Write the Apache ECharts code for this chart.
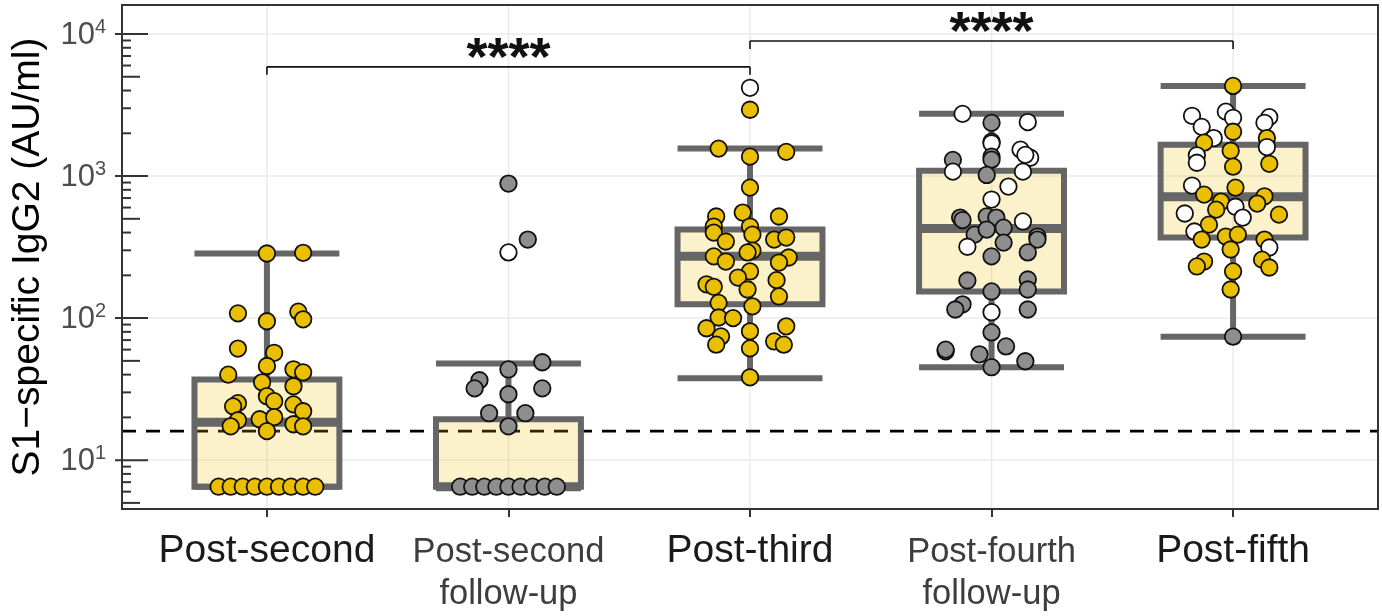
<!DOCTYPE html>
<html><head><meta charset="utf-8">
<script src="https://cdn.jsdelivr.net/npm/echarts@6/dist/echarts.min.js"></script>
<style>html,body{margin:0;padding:0;background:#fff}#c{width:1382px;height:616px}</style>
</head><body><div id="c"></div>
<script>
const FONT = '"Liberation Sans", Arial, Helvetica, sans-serif';

// ---------------- data ----------------
const categories = ['Post-second', 'Post-second\nfollow-up', 'Post-third', 'Post-fourth\nfollow-up', 'Post-fifth'];
const followUp = [false, true, false, true, false];
const yTickLabels = ['10^1', '10^2', '10^3', '10^4'];

// box stats: [lower whisker, Q1, median, Q3, upper whisker]
const boxStats = [
  [6.5, 6.5, 18.5, 37, 285],
  [6.5, 6.5, 6.5, 19.4, 48],
  [37.7, 125, 272, 420, 1560],
  [45, 154, 427, 1090, 2740],
  [74, 369, 716, 1660, 4310]
];
const threshold = 16;

// points: [jitter, value, fill]   g = gold, k = grey, w = white
const ptsPostSecond = [
  [0,285,'g'],[0.15,288,'g'],[-0.12,108,'g'],[0,95,'g'],[0.13,111,'g'],[0.15,98,'g'],
  [-0.12,61,'g'],[0.03,57,'g'],[0,46,'g'],[-0.16,40,'g'],[0.11,43.6,'g'],[0.15,41.5,'g'],
  [-0.02,35.3,'g'],[0.11,33.1,'g'],[0,28.2,'g'],[0.03,26,'g'],[-0.12,25.2,'g'],[-0.14,23.9,'g'],
  [0.11,24.7,'g'],[0.15,22.1,'g'],[-0.12,19.1,'g'],[-0.15,17.3,'g'],[-0.03,19.4,'g'],[0.03,20.1,'g'],
  [0.11,17.9,'g'],[0.15,17.3,'g'],[0,16,'g'],
  [-0.20,6.5,'g'],[-0.15,6.5,'g'],[-0.10,6.5,'g'],[-0.05,6.5,'g'],[0,6.5,'g'],
  [0.05,6.5,'g'],[0.10,6.5,'g'],[0.15,6.5,'g'],[0.20,6.5,'g']
];
const ptsPostSecondFU = [
  [0,885,'k'],[0.08,357,'k'],[0,290,'w'],[0.14,48.9,'k'],[0,43.5,'k'],[-0.12,36.5,'k'],
  [-0.14,32,'k'],[0.14,32,'k'],[0,29.1,'k'],[-0.08,21.4,'k'],[0.07,21.4,'k'],[0,17.3,'k'],
  [-0.20,6.5,'k'],[-0.15,6.5,'k'],[-0.10,6.5,'k'],[-0.05,6.5,'k'],[0,6.5,'k'],
  [0.05,6.5,'k'],[0.10,6.5,'k'],[0.15,6.5,'k'],[0.20,6.5,'k']
];
const ptsPostThird = [
  [0,4180,'w'],[0,2930,'g'],[-0.13,1560,'g'],[0.15,1480,'g'],[0,1370,'g'],[0,829,'g'],
  [-0.03,553,'g'],[-0.14,519,'g'],[0.12,519,'g'],[-0.15,441,'g'],[-0.15,400,'g'],[0,441,'g'],
  [0.01,387,'g'],[-0.10,346,'g'],[0.10,357,'g'],[0.15,369,'g'],[0.01,299,'g'],[-0.01,290,'g'],
  [-0.15,272,'g'],[0.16,267,'g'],[-0.10,250,'g'],[0.12,246,'g'],[0,213,'g'],[-0.05,193,'g'],
  [-0.18,173,'g'],[-0.15,166,'g'],[0.11,185,'g'],[-0.01,159,'g'],[0.12,142,'g'],[0.01,121,'g'],
  [-0.13,128,'g'],[-0.13,101,'g'],[-0.07,100,'g'],[-0.18,84.8,'g'],[-0.12,74.3,'g'],[-0.14,65,'g'],
  [0,80.7,'g'],[0.15,87.5,'g'],[0.10,68.5,'g'],[0.14,65,'g'],[0,61.2,'g'],[0,38.3,'g']
];
const ptsPostFourthFU = [
  [-0.12,2740,'w'],[0,2370,'k'],[0.15,2400,'w'],[0,1745,'k'],[0,1700,'w'],[0,1370,'k'],
  [0,1304,'k'],[0.12,1535,'w'],[0.16,1345,'w'],[0.14,1410,'w'],[-0.16,1300,'k'],[-0.16,1074,'w'],
  [-0.02,1018,'k'],[0.13,1074,'w'],[0.07,843,'w'],[0,683,'w'],[-0.13,510,'k'],[-0.12,490,'k'],
  [-0.02,520,'k'],[0.02,510,'k'],[0.13,479,'w'],[0.05,433,'k'],[-0.07,387,'k'],[-0.02,420,'k'],
  [0.19,375,'k'],[0.19,357,'k'],[0.05,340,'k'],[-0.10,318,'w'],[0,272,'k'],[0.15,290,'k'],
  [-0.10,184,'k'],[0.15,187,'k'],[0.15,159,'k'],[0,154,'k'],[-0.12,125,'k'],[-0.15,115,'k'],
  [0,110,'w'],[0.15,115,'k'],[0,79.3,'k'],[-0.19,58.4,'k'],[-0.19,60,'k'],[0.06,63.2,'k'],
  [-0.05,55.6,'k'],[0.14,49.7,'k'],[0,45.1,'k']
];
const ptsPostFifth = [
  [0,4310,'g'],[-0.17,2655,'w'],[-0.03,2840,'w'],[0,2570,'w'],[0.15,2600,'w'],[0.13,2370,'w'],
  [-0.13,2220,'w'],[0,2050,'g'],[-0.08,1850,'w'],[-0.12,1718,'g'],[0.14,1850,'g'],[0.14,1600,'w'],
  [-0.01,1507,'g'],[-0.15,1400,'w'],[-0.15,1241,'w'],[0.15,1220,'g'],[0,1164,'g'],[-0.17,857,'w'],
  [0.01,829,'g'],[-0.12,740,'g'],[0.13,720,'g'],[-0.05,660,'g'],[0.01,608,'w'],[0.10,640,'g'],
  [-0.07,580,'g'],[-0.20,545,'w'],[0.04,510,'w'],[0.19,535,'g'],[-0.10,455,'g'],[-0.16,407,'w'],
  [-0.13,357,'g'],[-0.03,375,'g'],[0.02,387,'g'],[-0.01,304,'g'],[0.13,357,'g'],[0.15,314,'w'],
  [-0.12,250,'g'],[-0.15,231,'g'],[0.12,258,'g'],[0.15,227,'g'],[0,213,'g'],[-0.01,159,'g'],
  [0,74,'k']
];
const groupPoints = [ptsPostSecond, ptsPostSecondFU, ptsPostThird, ptsPostFourthFU, ptsPostFifth];

// significance comparisons: [from group, to group, label, bracket level]
const comparisons = [
  [0, 2, '****', 5870],
  [2, 4, '****', 8930]
];

// ---------------- styles ----------------
const fillColors = { g: '#E9BF00', k: '#8E8E8E', w: '#FFFFFF' };
const boxLine = '#666666';
const boxFill = 'rgba(233,191,0,0.2)';
const gridColor = '#EBEBEB';
const Y_MIN = 4.53, Y_MAX = 16000;

// ---------------- build ----------------
const scatterData = [];
groupPoints.forEach((pts, gi) => {
  pts.forEach(p => {
    scatterData.push({ value: [gi + 1 + p[0], p[1]], itemStyle: { color: fillColors[p[2]] } });
  });
});
const boxData = boxStats.map((s, i) => [i + 1].concat(s));

const yTickVals = [];
for (let e = 0; e <= 4; e++) for (let k = 1; k <= 9; k++) {
  const v = k * Math.pow(10, e);
  if (v >= Y_MIN && v <= Y_MAX) yTickVals.push([0.4, v, k]);
}
const supMap = {};
yTickLabels.forEach(t => { const [b, e] = t.split('^'); supMap[e] = b; });

const chart = echarts.init(document.getElementById('c'), null, { renderer: 'canvas' });
chart.setOption({
  backgroundColor: '#fff',
  animation: false,
  grid: { left: 122, right: 4, top: 5, bottom: 107, show: true, borderColor: '#333', borderWidth: 2, backgroundColor: 'transparent', z: 10 },
  xAxis: {
    type: 'value', min: 0.4, max: 5.6,
    axisLine: { show: false },
    splitLine: { show: false },
    axisTick: { show: true, customValues: [1, 2, 3, 4, 5], length: 8, lineStyle: { color: '#333', width: 2 } },
    axisLabel: {
      customValues: [1, 2, 3, 4, 5], margin: 22,
      formatter: v => {
        const i = Math.round(v) - 1;
        if (i < 0 || i > 4) return '';
        return followUp[i]
          ? categories[i].split('\n').map(s => '{s|' + s + '}').join('\n')
          : '{m|' + categories[i] + '}';
      },
      rich: {
        m: { fontSize: 39, color: '#1a1a1a', fontFamily: FONT, lineHeight: 40 },
        s: { fontSize: 34.5, color: '#3d3d3d', fontFamily: FONT, lineHeight: 42 }
      }
    }
  },
  yAxis: {
    type: 'log', logBase: 10, min: Y_MIN, max: Y_MAX,
    name: 'S1\u2212specific IgG2 (AU/ml)', nameLocation: 'middle', nameGap: 74,
    nameTextStyle: { fontSize: 39, color: '#000', fontFamily: FONT },
    axisLine: { show: false },
    axisTick: { show: false },
    splitLine: { show: true, lineStyle: { color: gridColor, width: 1.5 } },
    axisLabel: {
      margin: 16,
      formatter: v => {
        const l = Math.log10(v), e = Math.round(l);
        if (Math.abs(l - e) > 1e-6 || supMap[e] === undefined) return '';
        return '{b|' + supMap[e] + '}{s|' + e + '}';
      },
      rich: {
        b: { fontSize: 31, color: '#4d4d4d', fontFamily: FONT, lineHeight: 34, verticalAlign: 'bottom' },
        s: { fontSize: 20, color: '#4d4d4d', fontFamily: FONT, lineHeight: 34, verticalAlign: 'top' }
      }
    }
  },
  series: [
    { // vertical grid lines
      type: 'custom', z: 1, silent: true, clip: false,
      data: [[1, 10], [2, 10], [3, 10], [4, 10], [5, 10]],
      renderItem: (params, api) => {
        const cs = params.coordSys;
        const x = api.coord([api.value(0), api.value(1)])[0];
        return { type: 'line', shape: { x1: x, y1: cs.y, x2: x, y2: cs.y + cs.height }, style: { stroke: gridColor, lineWidth: 1.5 } };
      }
    },
    { // threshold dashed line
      type: 'custom', z: 2, silent: true, clip: false,
      data: [[1, threshold]],
      renderItem: (params, api) => {
        const cs = params.coordSys;
        const y = api.coord([api.value(0), api.value(1)])[1];
        return { type: 'line', shape: { x1: cs.x, y1: y, x2: cs.x + cs.width, y2: y }, style: { stroke: '#000', lineWidth: 2.8, lineDash: [14, 10] } };
      }
    },
    { // boxes
      type: 'custom', z: 3, silent: true, clip: false,
      dimensions: ['x', 'lo', 'q1', 'med', 'q3', 'hi'],
      encode: { x: 0, y: [1, 2, 3, 4, 5] },
      data: boxData,
      renderItem: (params, api) => {
        const c = api.value(0);
        const lo = api.value(1), q1 = api.value(2), med = api.value(3), q3 = api.value(4), hi = api.value(5);
        const hw = 0.3;
        const xl = api.coord([c - hw, q1])[0], xr = api.coord([c + hw, q1])[0], xc = api.coord([c, q1])[0];
        const yLo = api.coord([c, lo])[1], yQ1 = api.coord([c, q1])[1], yMed = api.coord([c, med])[1];
        const yQ3 = api.coord([c, q3])[1], yHi = api.coord([c, hi])[1];
        const ls = { stroke: boxLine, lineWidth: 6 };
        return {
          type: 'group',
          children: [
            { type: 'line', shape: { x1: xc, y1: yQ3, x2: xc, y2: yHi }, style: ls },
            { type: 'line', shape: { x1: xc, y1: yQ1, x2: xc, y2: yLo }, style: ls },
            { type: 'line', shape: { x1: xl, y1: yHi, x2: xr, y2: yHi }, style: ls },
            { type: 'line', shape: { x1: xl, y1: yLo, x2: xr, y2: yLo }, style: ls },
            { type: 'rect', shape: { x: xl, y: yQ3, width: xr - xl, height: yQ1 - yQ3 }, style: { fill: boxFill, stroke: boxLine, lineWidth: 6 } },
            { type: 'line', shape: { x1: xl, y1: yMed, x2: xr, y2: yMed }, style: { stroke: boxLine, lineWidth: 9 } }
          ]
        };
      }
    },
    { // points
      type: 'scatter', z: 4, symbol: 'circle', symbolSize: 16.5,
      itemStyle: { borderColor: '#111', borderWidth: 1.8, opacity: 1 },
      emphasis: { disabled: true },
      data: scatterData
    },
    { // significance brackets
      type: 'custom', z: 5, silent: true, clip: false,
      data: comparisons.map(c => [c[0] + 1, c[3], c[1] + 1, c[2]]),
      dimensions: ['x1', 'y', 'x2', { name: 'lab', type: 'ordinal' }],
      encode: { x: [0, 2], y: 1 },
      renderItem: (params, api) => {
        const c = comparisons[params.dataIndex];
        const p1 = api.coord([c[0] + 1, c[3]]), p2 = api.coord([c[1] + 1, c[3]]);
        const st = { stroke: '#111', lineWidth: 1.6 };
        return {
          type: 'group',
          children: [
            { type: 'line', shape: { x1: p1[0], y1: p1[1], x2: p2[0], y2: p2[1] }, style: st },
            { type: 'line', shape: { x1: p1[0], y1: p1[1], x2: p1[0], y2: p1[1] + 8 }, style: st },
            { type: 'line', shape: { x1: p2[0], y1: p2[1], x2: p2[0], y2: p2[1] + 8 }, style: st },
            { type: 'text', style: { text: c[2], x: (p1[0] + p2[0]) / 2, y: p1[1] - 7, align: 'center', verticalAlign: 'middle', font: 'bold 54px ' + FONT, fill: '#111' } }
          ]
        };
      }
    },
    { // y log ticks
      type: 'custom', z: 6, silent: true, clip: false,
      data: yTickVals,
      renderItem: (params, api) => {
        const p = api.coord([api.value(0), api.value(1)]);
        const k = api.value(2);
        const x0 = p[0];
        let a = x0, b = x0 + 9;
        if (k === 1) { a = x0 - 7; b = x0 + 26; }
        else if (k === 5) { b = x0 + 18; }
        return { type: 'line', shape: { x1: a, y1: p[1], x2: b, y2: p[1] }, style: { stroke: '#333', lineWidth: 2 } };
      }
    }
  ]
});
</script>
</body></html>
